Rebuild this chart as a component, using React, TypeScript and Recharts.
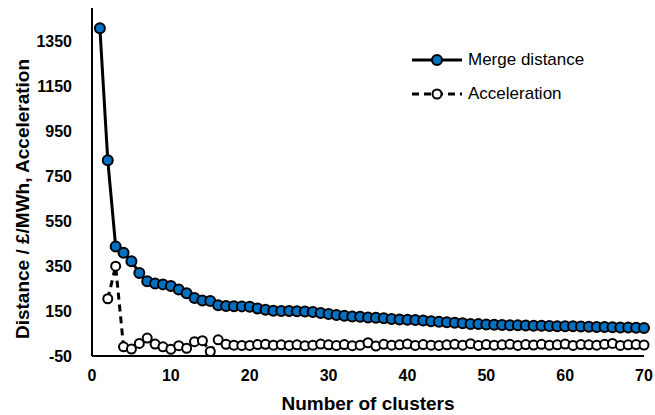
import { Legend, Line, LineChart, XAxis, YAxis } from "recharts";

const FONT = "'Liberation Sans', Arial, sans-serif";
const BLUE = "#0070C0";

const clusters = [
  1, 2, 3, 4, 5, 6, 7, 8, 9, 10, 11, 12, 13, 14, 15, 16, 17, 18, 19, 20,
  21, 22, 23, 24, 25, 26, 27, 28, 29, 30, 31, 32, 33, 34, 35, 36, 37, 38, 39, 40,
  41, 42, 43, 44, 45, 46, 47, 48, 49, 50, 51, 52, 53, 54, 55, 56, 57, 58, 59, 60,
  61, 62, 63, 64, 65, 66, 67, 68, 69, 70,
];

const mergeDistance = [
  1410, 822, 438, 410, 372, 320, 283, 273, 269, 262, 246, 229, 208, 197, 195, 176, 173, 172, 171, 169,
  162, 156, 152, 150, 150, 149, 148, 146, 142, 137, 133, 129, 126, 125, 122, 120, 118, 115, 113, 111,
  110, 108, 105, 102, 100, 98, 96, 93, 92, 90, 89, 88, 87, 87, 86, 85, 85, 84, 83, 82,
  82, 81, 80, 79, 79, 78, 77, 77, 76, 75,
];

// no acceleration value for the first cluster
const acceleration = [
  null, 205, 350, -9, -19, 6, 30, 3, -9, -20, -4, -16, 14, 18, -30, 22, 2, -2, -3, -3,
  1, 2, -2, 0, -3, 0, -4, -2, 3, 0, -3, 1, -4, -2, 9, -6, 2, -2, 0, 4,
  -3, 1, -2, -3, 0, 2, -2, 5, -3, 1, -2, 0, 2, -3, 1, -1, 2, -2, 0, 3,
  -3, 1, 0, -2, 2, 6, -3, 0, 1, -1,
];

const xTicks = [0, 10, 20, 30, 40, 50, 60, 70];
const yTicks = [-50, 150, 350, 550, 750, 950, 1150, 1350];

const data = clusters.map((x, i) => ({
  x,
  merge: mergeDistance[i],
  accel: acceleration[i],
}));

const tickStyle = { fontFamily: FONT, fontSize: 16, fontWeight: 700, fill: "#000" };
const titleStyle = { fontFamily: FONT, fontSize: 19, fontWeight: 700, fill: "#000" };

function LegendBox() {
  const rows = [
    { name: "Merge distance", dash: undefined, fill: BLUE, r: 5 },
    { name: "Acceleration", dash: "7 5", fill: "#fff", r: 4.5 },
  ];
  return (
    <div style={{ fontFamily: FONT, fontSize: 17, color: "#000" }}>
      {rows.map((row) => (
        <div key={row.name} style={{ display: "flex", alignItems: "center", height: 34 }}>
          <svg width={56} height={20}>
            <line x1={2} y1={10} x2={52} y2={10} stroke="#000" strokeWidth={3} strokeDasharray={row.dash} />
            <circle cx={27} cy={10} r={row.r} fill={row.fill} stroke="#000" strokeWidth={2} />
          </svg>
          <span style={{ marginLeft: 2 }}>{row.name}</span>
        </div>
      ))}
    </div>
  );
}

export default function App() {
  return (
    <div style={{ position: "absolute", left: 0, top: 0, width: 655, height: 415, background: "#fff" }}>
      <LineChart
        width={655}
        height={415}
        data={data}
        margin={{ top: 8, right: 11, bottom: 0, left: 0 }}
      >
        <XAxis
          dataKey="x"
          type="number"
          domain={[0, 70]}
          ticks={xTicks}
          interval={0}
          tickLine={false}
          axisLine={{ stroke: "#000", strokeWidth: 2 }}
          tick={tickStyle}
          tickMargin={8}
          height={59}
          label={{
            value: "Number of clusters",
            position: "insideBottom",
            offset: 5,
            style: titleStyle,
          }}
        />
        <YAxis
          type="number"
          domain={[-50, 1500]}
          ticks={yTicks}
          interval={0}
          allowDataOverflow
          tickLine={false}
          axisLine={{ stroke: "#000", strokeWidth: 2 }}
          tick={tickStyle}
          tickMargin={14}
          width={92}
          label={{
            value: "Distance / £/MWh, Acceleration",
            angle: -90,
            position: "insideLeft",
            offset: 22,
            dy: 17,
            style: { ...titleStyle, textAnchor: "middle" },
          }}
        />
        <Legend
          layout="horizontal"
          verticalAlign="middle"
          align="center"
          content={<LegendBox />}
          wrapperStyle={{ left: 410, top: 43, width: 220 }}
        />
        <Line
          type="linear"
          dataKey="merge"
          stroke="#000"
          strokeWidth={3}
          dot={{ r: 5, fill: BLUE, stroke: "#000", strokeWidth: 2 }}
          isAnimationActive={false}
        />
        <Line
          type="linear"
          dataKey="accel"
          stroke="#000"
          strokeWidth={3}
          strokeDasharray="7 5"
          connectNulls={false}
          dot={{ r: 4.5, fill: "#fff", stroke: "#000", strokeWidth: 2, strokeDasharray: "0" }}
          isAnimationActive={false}
        />
      </LineChart>
    </div>
  );
}
